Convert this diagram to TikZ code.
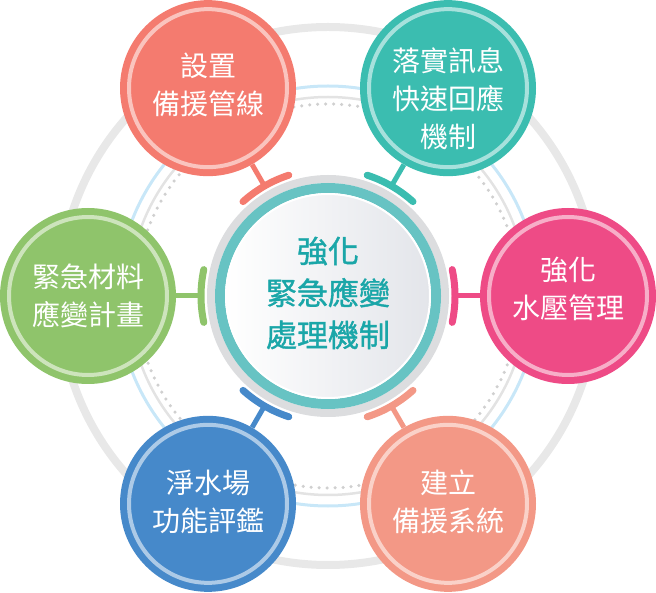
\documentclass[tikz,border=0pt]{standalone}
\usepackage{fontspec}
\newfontfamily\cjk{Noto Sans CJK TC}
\newfontfamily\cjkb[FakeBold=1.2]{Noto Sans CJK TC}
\usetikzlibrary{calc}
\definecolor{ringgray}{HTML}{E8E8E8}
\definecolor{ringblue}{HTML}{C8E7F8}
\definecolor{ringthin}{HTML}{E3E3E3}
\definecolor{dotgray}{HTML}{D0D0D0}
\definecolor{cgray}{HTML}{DCDDDF}
\definecolor{cteal}{HTML}{67C3C3}
\definecolor{cfill}{HTML}{E3E5EA}
\definecolor{ctext}{HTML}{1AA6A8}
\definecolor{sA}{HTML}{F47B6F}
\definecolor{sB}{HTML}{3BBDB0}
\definecolor{sC}{HTML}{EE4B86}
\definecolor{sD}{HTML}{F39886}
\definecolor{sE}{HTML}{4689CA}
\definecolor{sF}{HTML}{8FC46B}
\tikzset{
  sat/.style={circle, minimum size=176pt, inner sep=0pt, align=center, text=white,
    font=\cjk\fontsize{28}{38}\selectfont},
  ctr/.style={align=center, text=ctext, font=\cjkb\fontsize{31}{42}\selectfont},
  stem/.style={line width=5pt},
  bar/.style={line width=7pt, line cap=round}
}
\begin{document}
\begin{tikzpicture}[x=1pt,y=1pt]
\useasboundingbox (0,0) rectangle (656,592);
\coordinate (O) at (328,296);
% background rings
\draw[line width=8pt, ringgray] (O) circle (269);
\draw[line width=3pt, ringblue] (O) circle (210);
\draw[line width=2.5pt, ringthin] (O) circle (199);
\draw[line width=3.5pt, dotgray, line cap=round, dash pattern=on 0pt off 8pt] (O) circle (192);
% central circle
\draw[line width=8pt, cgray] (O) circle (117);
\draw[line width=10pt, cteal] (O) circle (108);
\shade[left color=white, right color=cfill] (O) circle (102);
\draw[line width=2pt, white] (O) circle (102);
\node[ctr] (c) at ($(O)+(0,3)$) {強化\\緊急應變\\處理機制};
% satellites
\foreach \a/\c/\n/\dy/\t in {
  120/sA/s1/3/{設置\\備援管線},
  60/sB/s2/-11/{落實訊息\\快速回應\\機制},
  0/sC/s3/7/{強化\\水壓管理},
  300/sD/s4/2/{建立\\備援系統},
  240/sE/s5/2/{淨水場\\功能評鑑},
  180/sF/s6/0/{緊急材料\\應變計畫}}{
  \node[sat, fill=\c] (\n) at ($(O)+(\a:240)$) {};
  \draw[line width=4pt, \c!45!white] (\n.center) circle (79);
  \node[sat] (\n-t) at ($(\n.center)+(0,\dy)$) {\t};
  \coordinate (\n-bar) at ($(O)+(\a:127)$);
  \draw[stem, \c] (\n) -- (\n-bar);
  \draw[bar, \c] ($(O)+(\a-12:127)$) arc[start angle=\a-12, end angle=\a+12, radius=127];
}
\end{tikzpicture}
\end{document}
